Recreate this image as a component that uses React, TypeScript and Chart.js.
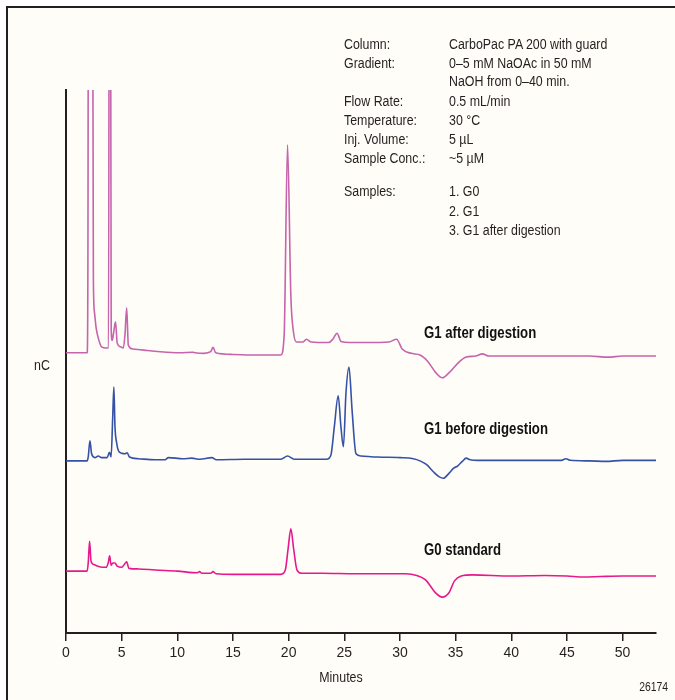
import { useEffect, useRef } from 'react';
import { Chart, registerables } from 'chart.js';

Chart.register(...registerables);

// Retention-time axis (minutes)
const xTickValues = [0, 5, 10, 15, 20, 25, 30, 35, 40, 45, 50];
const X_MAX = 53;
const Y_MAX = 100;

// G1 after digestion (offset trace, nC)
const digestMinutes = [
  0, 1.9, 1.97, 2.03, 2.36, 2.46, 2.56, 2.7, 2.9, 3.2, 3.6, 3.82, 3.9, 3.98, 4.06, 4.15, 4.27, 4.45, 4.6, 4.9,
  5.15, 5.3, 5.45, 5.6, 6.0, 7, 8, 10.2, 11.4, 11.6, 12.4, 13.0, 13.2, 13.45, 15, 17, 19.3, 19.6, 19.9, 20.2,
  20.45, 20.7, 21.3, 21.6, 22.0, 23.6, 24.0, 24.35, 24.7, 25.5, 27, 29, 29.7, 30.2, 31.0, 31.8, 32.5, 33.2,
  33.8, 34.4, 35.3, 35.9, 36.8, 37.4, 38, 42, 47, 48.7, 50, 53,
];
const digestSignal = [
  51.6, 51.6, 70, 150, 150, 65, 59, 56.3, 54.3, 52.7, 52.5, 52.5, 150, 150, 55.8, 53.9, 55.2, 57.3, 53.4, 52.7,
  52.5, 55, 59.9, 53, 52.3, 52.1, 51.9, 51.6, 51.7, 51.6, 51.5, 51.8, 52.6, 51.6, 51.3, 51.2, 51.2, 55, 89.9, 62,
  55.2, 53.6, 53.6, 54.1, 53.6, 53.5, 54.2, 55.2, 53.7, 53.5, 53.5, 53.6, 54.1, 52.3, 51.5, 51.2, 50.0, 48.0,
  47.0, 47.9, 49.9, 50.8, 51.0, 51.4, 51.0, 51.0, 51.0, 50.8, 51.0, 51.0,
];

// G1 before digestion (offset trace, nC)
const g1Minutes = [
  0, 1.9, 2.0, 2.15, 2.3, 2.6, 2.9, 3.2, 3.7, 3.9, 4.05, 4.2, 4.3, 4.4, 4.55, 4.7, 5.0, 5.3, 5.5, 5.7, 6.5, 8,
  8.9, 9.2, 10.5, 11.3, 12, 13.1, 13.5, 16, 19.3, 19.9, 20.5, 23.4, 23.8, 24.1, 24.45, 24.7, 24.92, 25.15,
  25.42, 25.7, 26.05, 26.5, 28, 30, 31.2, 31.8, 32.4, 33.0, 33.5, 33.9, 34.4, 34.8, 35.2, 35.6, 35.95, 36.3,
  37, 40, 44.5, 44.9, 45.3, 47, 48.5, 50, 53,
];
const g1Signal = [
  31.7, 31.7, 32.5, 35.4, 33.0, 32.3, 32.6, 32.3, 32.3, 33.3, 32.4, 40, 45.3, 38, 35.0, 33.6, 33.1, 33.0, 33.2,
  32.4, 32.1, 31.9, 31.9, 32.3, 32.1, 32.2, 32.0, 32.3, 31.9, 32.0, 32.0, 32.6, 32.0, 32.0, 32.8, 37.9, 43.7,
  37.9, 34.3, 44.2, 49.0, 41, 33.0, 32.6, 32.4, 32.3, 32.1, 31.7, 31.0, 29.7, 28.8, 28.5, 29.4, 30.3, 30.8,
  31.6, 32.2, 31.9, 31.8, 31.8, 31.8, 32.1, 31.8, 31.7, 31.6, 31.8, 31.8,
];

// G0 standard (offset trace, nC)
const g0Minutes = [
  0, 1.9, 2.0, 2.12, 2.25, 2.5, 3.0, 3.6, 3.8, 3.92, 4.05, 4.2, 4.4, 4.6, 5.0, 5.3, 5.45, 5.65, 6.5, 8, 10,
  11.8, 12.0, 12.2, 13.0, 13.2, 13.5, 15, 17, 19.3, 19.7, 19.95, 20.2, 20.45, 20.75, 21.2, 23, 26, 29, 30.5,
  31.5, 32.3, 33.2, 33.8, 34.4, 34.9, 35.5, 36.5, 40, 43, 45, 46.5, 48, 50, 53,
];
const g0Signal = [
  11.4, 11.4, 13.0, 16.9, 13.2, 12.6, 12.2, 12.1, 13.0, 14.2, 12.5, 12.9, 12.9, 12.3, 12.1, 12.8, 13.1, 11.9,
  11.8, 11.6, 11.4, 11.1, 11.3, 11.0, 11.0, 11.3, 10.9, 10.8, 10.8, 10.8, 11.6, 15.5, 19.2, 15.5, 11.6, 11.0,
  11.0, 10.9, 10.9, 10.9, 10.6, 9.8, 7.4, 6.6, 7.4, 9.6, 10.5, 10.7, 10.5, 10.6, 10.5, 10.3, 10.4, 10.5, 10.5,
];

const traceNames = ['G1 after digestion', 'G1 before digestion', 'G0 standard'];
const traceColors = ['#c664ac', '#3552a6', '#e6188b'];
const traceMinutes = [digestMinutes, g1Minutes, g0Minutes];
const traceSignals = [digestSignal, g1Signal, g0Signal];

// Method conditions
const conditionKeys = ['Column:', 'Gradient:', '', 'Flow Rate:', 'Temperature:', 'Inj. Volume:', 'Sample Conc.:', 'Samples:', '', ''];
const conditionValues = [
  'CarboPac PA 200 with guard',
  '0–5 mM NaOAc in 50 mM',
  'NaOH from 0–40 min.',
  '0.5 mL/min',
  '30 °C',
  '5 µL',
  '~5 µM',
  '1. G0',
  '2. G1',
  '3. G1 after digestion',
];

const xTitle = 'Minutes';
const yTitle = 'nC';
const figureId = '26174';

const FONT = '"Liberation Sans", Arial, sans-serif';
const INK = '#231f20';
const NARROW = 0.8;

const conditionRowCenters = [44, 63, 81, 101, 120, 139, 158, 191, 211, 230];
const traceLabelCenters = [332, 428, 549];

export default function App() {
  const canvasRef = useRef<HTMLCanvasElement | null>(null);

  useEffect(() => {
    const canvas = canvasRef.current;
    if (!canvas) return;
    const chart = new Chart(canvas, {
      type: 'line',
      data: {
        datasets: traceNames.map((name, i) => ({
          label: name,
          data: traceMinutes[i].map((m, j) => ({ x: m, y: traceSignals[i][j] })),
          borderColor: traceColors[i],
          borderWidth: 1.6,
          pointRadius: 0,
          cubicInterpolationMode: 'monotone' as const,
          fill: false,
        })),
      },
      options: {
        animation: false,
        responsive: false,
        devicePixelRatio: 1,
        layout: { padding: { top: 90, right: 19, bottom: 0, left: 0 } },
        plugins: { legend: { display: false }, tooltip: { enabled: false } },
        scales: {
          x: {
            type: 'linear',
            min: 0,
            max: X_MAX,
            afterBuildTicks: (scale: any) => {
              scale.ticks = xTickValues.map((v) => ({ value: v }));
            },
            afterFit: (scale: any) => {
              scale.height = 67;
            },
            grid: {
              display: true,
              drawOnChartArea: false,
              drawTicks: true,
              tickLength: 8,
              color: INK,
              lineWidth: 1.5,
            },
            border: { display: true, color: INK, width: 2 },
            ticks: {
              padding: 4,
              color: INK,
              font: { family: FONT, size: 14 },
              maxRotation: 0,
            },
          },
          y: {
            type: 'linear',
            min: 0,
            max: Y_MAX,
            afterFit: (scale: any) => {
              scale.width = 66;
            },
            grid: { display: true, drawOnChartArea: false, drawTicks: false },
            border: { display: true, color: INK, width: 2 },
            ticks: { display: false },
          },
        },
      },
    });
    return () => chart.destroy();
  }, []);

  const text = (extra: React.CSSProperties, origin = 'left center'): React.CSSProperties => ({
    position: 'absolute',
    fontFamily: FONT,
    color: INK,
    whiteSpace: 'nowrap',
    lineHeight: '18px',
    pointerEvents: 'none',
    transform: `scaleX(${NARROW})`,
    transformOrigin: origin,
    ...extra,
  });

  return (
    <div
      style={{
        position: 'fixed',
        left: 0,
        top: 0,
        width: 675,
        height: 700,
        background: '#ffffff',
        overflow: 'hidden',
      }}
    >
      <div
        style={{
          position: 'absolute',
          left: 6,
          top: 6,
          right: 0,
          bottom: 0,
          background: '#fffdf7',
          borderTop: `2px solid ${INK}`,
          borderLeft: `2px solid ${INK}`,
        }}
      />
      <canvas ref={canvasRef} width={675} height={700} style={{ position: 'absolute', left: 0, top: 0 }} />

      {conditionKeys.map((k, i) =>
        k ? (
          <div key={`k${i}`} style={text({ left: 344, top: conditionRowCenters[i] - 9, fontSize: 15.5 })}>
            {k}
          </div>
        ) : null,
      )}
      {conditionValues.map((v, i) => (
        <div key={`v${i}`} style={text({ left: 449, top: conditionRowCenters[i] - 9, fontSize: 15.5 })}>
          {v}
        </div>
      ))}

      {traceNames.map((name, i) => (
        <div
          key={name}
          style={text({ left: 424, top: traceLabelCenters[i] - 9, fontSize: 16.5, fontWeight: 700, color: '#111' })}
        >
          {name}
        </div>
      ))}

      <div style={text({ left: 34, top: 365 - 9, fontSize: 15.5 })}>{yTitle}</div>
      <div style={text({ left: 241, width: 200, textAlign: 'center', top: 677 - 9, fontSize: 15.5 }, 'center')}>
        {xTitle}
      </div>
      <div style={text({ right: 7, top: 687 - 9, fontSize: 13 }, 'right center')}>{figureId}</div>
    </div>
  );
}
